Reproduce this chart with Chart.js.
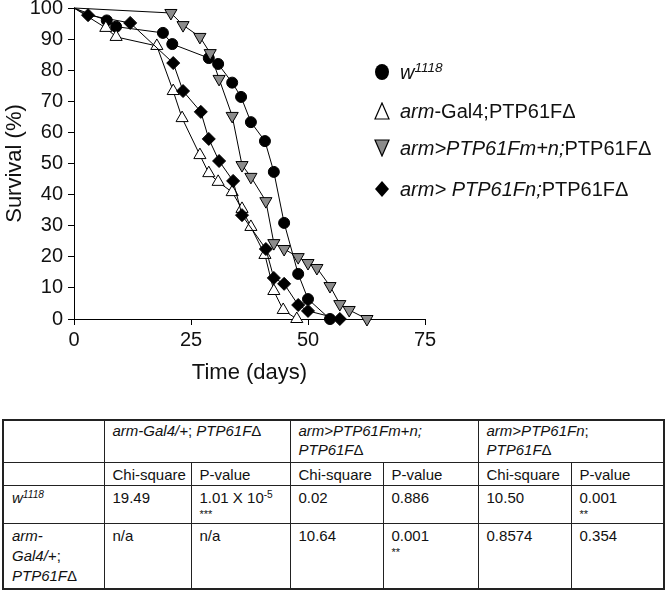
<!DOCTYPE html>
<html>
<head>
<meta charset="utf-8">
<script src="https://cdn.jsdelivr.net/npm/chart.js@4.4.0/dist/chart.umd.min.js"></script>
<style>
  body { margin: 0; width: 666px; height: 590px; background: #fff; position: relative; overflow: hidden;
         font-family: "Liberation Sans", Arial, sans-serif; color: #111; }
  #chartBox { position: absolute; left: 0; top: 0; width: 440px; height: 400px; }
  .legend-item { position: absolute; left: 374px; height: 24px; line-height: 24px; font-size: 20px; white-space: nowrap; }
  .legend-item svg { position: absolute; left: 0; top: 3px; }
  .legend-item span { position: absolute; left: 26px; top: 0; }
  sup { font-size: 0.68em; vertical-align: 0.5em; line-height: 0; }
  #stats { position: absolute; left: 2px; top: 419px; width: 661px; border-collapse: collapse; table-layout: fixed;
           font-size: 15px; border: 2px solid #222; }
  #stats td { border: 1px solid #222; vertical-align: top; padding: 2px 1px 0 8px; line-height: 20px;
              overflow: hidden; white-space: nowrap; }
  #stats tr.head td { padding-top: 0; line-height: 19px; }
  #stats .stars { font-size: 11px; line-height: 12px; }
</style>
</head>
<body>
<div id="chartBox"><canvas id="survivalChart"></canvas></div>

<div class="legend-item" style="top:60px">
  <svg width="16" height="18"><ellipse cx="8" cy="9" rx="7" ry="8" fill="#000"/></svg>
  <span><i>w<sup>1118</sup></i></span>
</div>
<div class="legend-item" style="top:99px">
  <svg width="16" height="18"><polygon points="1,17 15,17 8,1" fill="#fff" stroke="#000" stroke-width="1.2"/></svg>
  <span><i>arm</i>-Gal4;PTP61FΔ</span>
</div>
<div class="legend-item" style="top:136px">
  <svg width="16" height="18"><polygon points="1,1 15,1 8,17" fill="#8c8c8c" stroke="#000" stroke-width="1.2"/></svg>
  <span><i>arm&gt;PTP61Fm+n;</i>PTP61FΔ</span>
</div>
<div class="legend-item" style="top:177px">
  <svg width="16" height="18"><polygon points="8,1 15,9 8,17 1,9" fill="#000"/></svg>
  <span><i>arm&gt; PTP61Fn;</i>PTP61FΔ</span>
</div>

<table id="stats">
  <colgroup>
    <col style="width:101px"><col style="width:87px"><col style="width:99px"><col style="width:93px">
    <col style="width:95px"><col style="width:93px"><col style="width:93px">
  </colgroup>
  <tr class="head" style="height:42px">
    <td></td>
    <td colspan="2"><i>arm-Gal4/+</i>; <i>PTP61F</i>Δ</td>
    <td colspan="2"><i>arm&gt;PTP61Fm+n;<br>PTP61F</i>Δ</td>
    <td colspan="2"><i>arm&gt;PTP61Fn</i>;<br><i>PTP61F</i>Δ</td>
  </tr>
  <tr style="height:22px">
    <td></td><td>Chi-square</td><td>P-value</td><td>Chi-square</td><td>P-value</td><td>Chi-square</td><td>P-value</td>
  </tr>
  <tr style="height:38px">
    <td><i>w<sup>1118</sup></i></td>
    <td>19.49</td>
    <td>1.01 X 10<sup>-5</sup><div class="stars">***</div></td>
    <td>0.02</td>
    <td>0.886</td>
    <td>10.50</td>
    <td>0.001<div class="stars">**</div></td>
  </tr>
  <tr style="height:66px">
    <td><i>arm-<br>Gal4/+</i>;<br><i>PTP61F</i>Δ</td>
    <td>n/a</td>
    <td>n/a</td>
    <td>10.64</td>
    <td>0.001<div class="stars">**</div></td>
    <td>0.8574</td>
    <td>0.354</td>
  </tr>
</table>

<script>
// Survival data (day, % alive)
const w1118Days = [0, 7, 9, 19, 21, 28.8, 30.8, 33.8, 35.7, 37.8, 40.8, 42.7, 44.9, 47.9, 50, 54.7];
const w1118Surv = [100, 96, 94, 92, 88.4, 83.9, 82, 76, 71.4, 63.3, 57.2, 47.3, 30.9, 14.5, 6.4, 0];

const gal4Days = [0, 6.8, 9, 17.7, 21.2, 23.1, 26.9, 28.8, 30.8, 33.8, 35.9, 37.8, 40.8, 42.7, 44.7, 47.6];
const gal4Surv = [100, 93.6, 90.7, 87.8, 73.3, 64.6, 52.7, 46.9, 44.1, 40.8, 35.4, 29.6, 20.6, 9, 2.9, 0];

const mnDays = [0, 20.7, 23.3, 26.9, 29.1, 31, 33.8, 35.9, 37.8, 41, 42.7, 44.9, 47.9, 50, 51.9, 54.7, 56.8, 58.8, 62.6];
const mnSurv = [100, 98.4, 94.5, 90.7, 85.5, 77.2, 65.3, 49.5, 45.7, 37.9, 24.4, 22.5, 19.9, 18, 16.4, 10.6, 4.8, 2.9, 0];

const nDays = [0, 3, 12, 21.2, 23.3, 27.1, 28.8, 31, 34, 35.9, 41, 42.7, 44.9, 47.9, 50, 56.8];
const nSurv = [100, 97.7, 95.2, 82.3, 73.3, 66.6, 57.9, 50.8, 44.4, 33.4, 22.5, 13.2, 11.3, 4.5, 2.6, 0];

const xTicks = [0, 25, 50, 75];
const yTicks = [0, 10, 20, 30, 40, 50, 60, 70, 80, 90, 100];

const FONT = '"Liberation Sans", Arial, sans-serif';

function makeDataset(label, days, surv, style, fill, radius, rotation) {
    return {
        label: label,
        data: days.map((d, i) => ({ x: d, y: surv[i] })),
        borderColor: '#000',
        borderWidth: 1,
        tension: 0,
        pointStyle: style,
        pointRotation: rotation,
        pointBackgroundColor: fill,
        pointBorderColor: '#000',
        pointBorderWidth: 1,
        // first point is the (0, 100) start, drawn without a marker
        pointRadius: ctx => ctx.dataIndex === 0 ? 0 : radius,
        clip: false
    };
}

function initChart() {
    const ctx = document.getElementById('survivalChart');

    new Chart(ctx, {
        type: 'line',
        data: {
            datasets: [
                makeDataset('arm>PTP61Fm+n', mnDays, mnSurv, 'triangle', '#8c8c8c', 7, 180),
                makeDataset('arm>PTP61Fn', nDays, nSurv, 'rectRot', '#000', 6.5, 0),
                makeDataset('arm-Gal4', gal4Days, gal4Surv, 'triangle', '#fff', 7, 0),
                makeDataset('w1118', w1118Days, w1118Surv, 'circle', '#000', 5.5, 0)
            ]
        },
        options: {
            responsive: false,
            animation: false,
            layout: { padding: { top: 8, right: 15, left: 0, bottom: 0 } },
            plugins: {
                legend: { display: false },
                tooltip: { enabled: false }
            },
            scales: {
                x: {
                    type: 'linear',
                    min: xTicks[0],
                    max: xTicks[xTicks.length - 1],
                    afterBuildTicks: s => { s.ticks = xTicks.map(v => ({ value: v })); },
                    ticks: { font: { size: 20, family: FONT }, color: '#111', padding: 3, maxRotation: 0 },
                    grid: { drawOnChartArea: false, tickLength: 6, color: '#000' },
                    border: { color: '#000', width: 1 },
                    title: { display: true, text: 'Time (days)', color: '#111',
                             font: { size: 22, family: FONT }, padding: { top: 0, bottom: 14 } },
                    afterFit: s => { s.height = 81; s.paddingLeft = 0; s.paddingRight = 0; }
                },
                y: {
                    min: yTicks[0],
                    max: yTicks[yTicks.length - 1],
                    afterBuildTicks: s => { s.ticks = yTicks.map(v => ({ value: v })); },
                    ticks: { font: { size: 20, family: FONT }, color: '#111', padding: 5 },
                    grid: { drawOnChartArea: false, tickLength: 6, color: '#000' },
                    border: { color: '#000', width: 1 },
                    title: { display: true, text: 'Survival (%)', color: '#111',
                             font: { size: 22, family: FONT }, padding: { top: 2, bottom: 0 } },
                    afterFit: s => { s.width = 74; s.paddingTop = 0; s.paddingBottom = 0; }
                }
            }
        }
    });
}

document.getElementById('survivalChart').width = 440;
document.getElementById('survivalChart').height = 400;
initChart();
</script>
</body>
</html>
